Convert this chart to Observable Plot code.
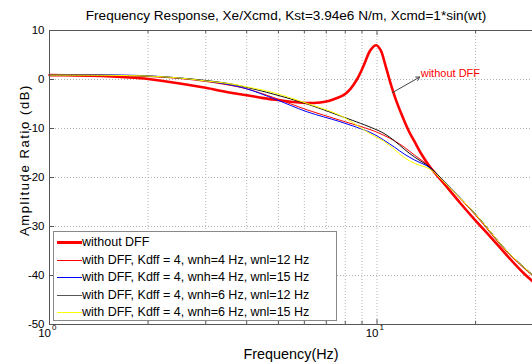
<!DOCTYPE html>
<html>
<head>
<meta charset="utf-8">
<script src="https://cdn.jsdelivr.net/npm/d3@7"></script>
<script src="https://cdn.jsdelivr.net/npm/@observablehq/plot@0.6"></script>
<style>
  body { margin: 0; background: #fff; }
  #wrap { position: relative; width: 532px; height: 364px; overflow: hidden; font-family: "Liberation Sans", Arial, sans-serif; }
  #legend { position: absolute; left: 53px; top: 231px; width: 284px; height: 90px; border: 1px solid #888; background: #fff; box-sizing: border-box; }
  .item { position: absolute; left: 0; height: 16px; font-size: 12.5px; line-height: 16px; color: #000; white-space: nowrap; }
  .item .sw { position: absolute; left: 3px; width: 25px; }
  .item .lb { position: absolute; left: 28px; top: 0; }
  #ylab { position: absolute; left: 24px; top: 160px; width: 0; height: 0; }
  #ylab span { position: absolute; left: 0; top: 0; transform: translate(-50%, -50%) rotate(-90deg); white-space: nowrap; font-size: 13px; letter-spacing: 1.6px; color: #000; }
</style>
</head>
<body>
<div id="wrap"></div>
<script>
// ---- data ----
const titleText = "Frequency Response, Xe/Xcmd, Kst=3.94e6 N/m, Xcmd=1*sin(wt)";
const xLabel = "Frequency(Hz)";
const yLabel = "Amplitude Ratio (dB)";
const yTicks = [10, 0, -10, -20, -30, -40, -50];
const xMajor = [1, 10];
const xMajorExp = ["0", "1"];
const xMinor = [2, 3, 4, 5, 6, 7, 8, 9, 20];

const seriesNames = [
  "without DFF",
  "with DFF, Kdff = 4, wnh=4 Hz, wnl=12 Hz",
  "with DFF, Kdff = 4, wnh=4 Hz, wnl=15 Hz",
  "with DFF, Kdff = 4, wnh=6 Hz, wnl=12 Hz",
  "with DFF, Kdff = 4, wnh=6 Hz, wnl=15 Hz"
];
const seriesColors = ["#ff0000", "#ff0000", "#0000ff", "#111111", "#ffff00"];
const legendColors = ["#ff0000", "#ff0000", "#0000ff", "#555555", "#ffff00"];
const seriesWidths = [2.6, 1, 1, 1, 1];

const fNo  = [1, 1.2, 1.44, 1.7, 2, 2.5, 3, 3.5, 4, 4.5, 5, 5.8, 6.4, 7, 7.4, 7.9, 8.3, 8.7, 9.1, 9.55, 9.95, 10.26, 10.6, 11, 11.4, 11.9, 12.5, 13, 13.6, 14.5, 16, 18, 20, 22, 25, 28, 30];
const dbNo = [0.9, 0.85, 0.7, 0.45, 0.1, -0.8, -1.7, -2.6, -3.2, -3.8, -4.2, -4.7, -4.8, -4.5, -4.0, -3.2, -1.9, 0.1, 2.8, 6.0, 7.0, 6.0, 3.0, -0.8, -4.0, -7.2, -10.5, -12.6, -15.0, -17.8, -21.2, -25.3, -28.8, -31.8, -36.0, -39.5, -41.3];

const fA  = [1, 1.5, 2, 2.5, 3, 3.5, 4, 4.84, 6.12, 7.7, 9.6, 10.5, 11.3, 12.1, 13, 14.5, 16, 20, 25, 30];
const db412 = [0.9, 0.85, 0.6, 0.2, -0.4, -1.1, -1.9, -3.7, -6.2, -8.3, -10.3, -11.4, -12.5, -13.8, -15.4, -17.8, -20.8, -27.7, -35.3, -40.2];
const db415 = [0.9, 0.95, 0.75, 0.3, -0.3, -1.0, -1.9, -3.9, -6.6, -8.6, -10.9, -12.4, -13.8, -15.2, -16.4, -18.0, -20.8, -27.5, -35.1, -40.0];
const db612 = [0.9, 0.85, 0.7, 0.3, -0.2, -0.8, -1.6, -3.0, -5.0, -7.4, -9.8, -11.0, -12.5, -14.2, -15.8, -17.9, -20.8, -27.5, -35.1, -40.0];
const db615 = [0.9, 0.85, 0.7, 0.3, -0.3, -0.8, -1.5, -2.7, -4.9, -7.3, -11.2, -12.6, -14.3, -15.9, -17.1, -18.3, -20.9, -27.5, -35.1, -40.0];

const annotText = "without DFF";
const annotArrow = [{x1: 11.13, y1: -2.7, x2: 13.5, y2: 0.5}];
const annotPos = [{x: 13.6, y: 1.2}];

// ---- build ----
const freqs = [fNo, fA, fA, fA, fA];
const dbs = [dbNo, db412, db415, db612, db615];
const lineMarks = freqs.map((fs, i) =>
  Plot.line(fs.map((f, j) => ({f, db: dbs[i][j]})), {
    x: "f", y: "db", stroke: seriesColors[i], strokeWidth: seriesWidths[i], curve: "catmull-rom"
  })
);

const font = "'Liberation Sans', Arial, sans-serif";
const xDomain = [1, 29.84];
const gridColor = "#b4b4b4";
const axisColor = "#555";

const chart = Plot.plot({
  width: 532,
  height: 364,
  marginLeft: 49,
  marginRight: 0,
  marginTop: 30,
  marginBottom: 40,
  style: {fontFamily: font, fontSize: "13px", color: "#000", background: "#fff", overflow: "visible"},
  x: {type: "log", domain: xDomain, axis: null},
  y: {domain: [-50, 10], axis: null},
  marks: [
    // grid
    Plot.ruleX([...xMinor, ...xMajor], {stroke: gridColor, strokeDasharray: "1,2", strokeWidth: 1}),
    Plot.ruleY(yTicks.filter(d => d !== 10 && d !== -50), {stroke: gridColor, strokeDasharray: "1,2", strokeWidth: 1}),
    // y axis labels
    Plot.axisY({ticks: yTicks, tickSize: 0, tickPadding: 5, tickFormat: d => String(d), fontSize: 11.5, label: null, color: "#000"}),
    // curves
    ...lineMarks,
    // frame
    Plot.ruleY([10, -50], {stroke: axisColor, strokeWidth: 1}),
    Plot.ruleX([1], {stroke: axisColor, strokeWidth: 1}),
    // tick marks
    Plot.ruleX(xMinor, {y1: -50, y2: -49.35, stroke: axisColor}),
    Plot.ruleX(xMinor, {y1: 10, y2: 9.35, stroke: axisColor}),
    Plot.ruleX(xMajor, {y1: -50, y2: -49, stroke: axisColor}),
    Plot.ruleX(xMajor, {y1: 10, y2: 9, stroke: axisColor}),
    Plot.ruleY(yTicks, {x1: 1, x2: 1.036, stroke: axisColor}),
    // x tick labels 10^n
    Plot.text(xMajor, {x: d => d, frameAnchor: "bottom", text: () => "10", textAnchor: "end", lineAnchor: "bottom", dx: 1.5, dy: 12, fontSize: 11.5, fill: "#000"}),
    Plot.text(xMajor, {x: d => d, frameAnchor: "bottom", text: (d, i) => xMajorExp[i], textAnchor: "start", lineAnchor: "bottom", dx: 2.5, dy: 5, fontSize: 8, fill: "#000"}),
    // annotation
    Plot.arrow(annotArrow, {x1: "x1", y1: "y1", x2: "x2", y2: "y2", stroke: "#444", strokeWidth: 1, headLength: 6}),
    Plot.text(annotPos, {x: "x", y: "y", text: () => annotText, textAnchor: "start", lineAnchor: "middle", fill: "#ff0000", fontSize: 11}),
    // title and x label
    Plot.text([titleText], {frameAnchor: "top", text: d => d, lineAnchor: "bottom", dx: -5, dy: -11, fontSize: 13.6, fill: "#000"}),
    Plot.text([xLabel], {frameAnchor: "bottom", text: d => d, lineAnchor: "bottom", dy: 34, fontSize: 14.4, fill: "#000"})
  ]
});

const wrap = document.getElementById("wrap");
wrap.appendChild(chart);

// y label (rotated)
const ylab = document.createElement("div");
ylab.id = "ylab";
const ys = document.createElement("span");
ys.textContent = yLabel;
ylab.appendChild(ys);
wrap.appendChild(ylab);

// legend overlay
const legend = document.createElement("div");
legend.id = "legend";
const rowTops = [2, 19.5, 37, 54.5, 72];
seriesNames.forEach((name, i) => {
  const row = document.createElement("div");
  row.className = "item";
  row.style.top = rowTops[i] + "px";
  const sw = document.createElement("div");
  sw.className = "sw";
  const thick = seriesWidths[i] > 1 ? 3 : 1;
  sw.style.height = thick + "px";
  sw.style.top = (thick > 1 ? 7 : 8) + "px";
  sw.style.background = legendColors[i];
  const lb = document.createElement("div");
  lb.className = "lb";
  lb.textContent = name;
  row.appendChild(sw);
  row.appendChild(lb);
  legend.appendChild(row);
});
wrap.appendChild(legend);
</script>
</body>
</html>
